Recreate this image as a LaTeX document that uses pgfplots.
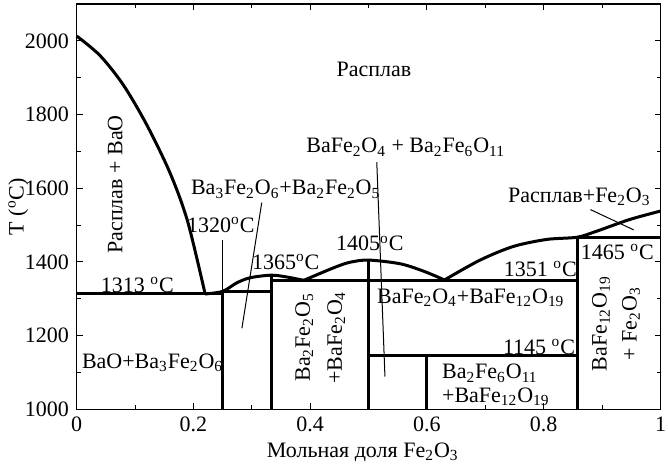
\documentclass[border=0pt]{standalone}
\usepackage{fontspec}
\setmainfont{Liberation Serif}
\usepackage{pgfplots}
\pgfplotsset{compat=1.18}
\newcommand{\sub}[1]{\textsubscript{#1}}
\newcommand{\dg}{\textsuperscript{o}C}

\begin{document}
\fontsize{11}{13}\selectfont
\begin{tikzpicture}
\begin{axis}[
    scale only axis,
    width=291.9pt, height=202.65pt,
    xmin=0, xmax=1, ymin=1000, ymax=2100,
    xtick={0,0.2,0.4,0.6,0.8,1},
    minor xtick={0.1,0.3,0.5,0.7,0.9},
    ytick={1000,1200,1400,1600,1800,2000},
    minor ytick={1100,1300,1500,1700,1900,2100},
    tick align=inside,
    major tick length=3pt, minor tick length=2pt,
    tick style={black, line width=0.5pt},
    axis line style={line width=0.7pt},
    /pgf/number format/assume math mode=true,
    /pgf/number format/1000 sep={},
    xlabel={Мольная доля Fe\sub{2}O\sub{3}},
    ylabel={T (\dg)},
    every axis x label/.style={at={(axis description cs:0.49,-0.105)}, anchor=center},
    every axis y label/.style={at={(axis description cs:-0.1,0.5)}, rotate=90, anchor=center},
    clip=false,
    pb/.style={black, line width=1.5pt, mark=none, line join=round},
    pt/.style={black, line width=0.5pt, mark=none},
]
% liquidus
\addplot[pb, smooth] coordinates {(0,2013) (0.04,1960) (0.08,1880) (0.12,1772) (0.16,1641) (0.19,1510) (0.22,1313)};
\addplot[pb, smooth] coordinates {(0.22,1313) (0.25,1320) (0.274,1343) (0.297,1357) (0.333,1364) (0.36,1359) (0.389,1350)};
\addplot[pb, smooth] coordinates {(0.389,1350) (0.44,1384) (0.468,1399) (0.5,1405) (0.554,1395) (0.594,1375) (0.63,1351)};
\addplot[pb, smooth] coordinates {(0.63,1351) (0.691,1405) (0.748,1442) (0.805,1461) (0.857,1467) (0.89,1483) (0.947,1515) (1,1538)};
% solidus lines and phase boundaries
\addplot[pb] coordinates {(0,1313) (0.25,1313)};
\addplot[pb] coordinates {(0.25,1000) (0.25,1320) (0.3333,1320)};
\addplot[pb] coordinates {(0.3333,1000) (0.3333,1364)};
\addplot[pb] coordinates {(0.3333,1350) (0.5,1350)};
\addplot[pb] coordinates {(0.5,1000) (0.5,1405)};
\addplot[pb] coordinates {(0.5,1350) (0.857,1350)};
\addplot[pb] coordinates {(0.5,1145) (0.857,1145)};
\addplot[pb] coordinates {(0.6,1000) (0.6,1145)};
\addplot[pb] coordinates {(0.857,1000) (0.857,1467)};
\addplot[pb] coordinates {(0.857,1465) (1,1465)};
% pointer lines
\addplot[pt] coordinates {(0.249,1460) (0.249,1320)};
\addplot[pt] coordinates {(0.317,1561) (0.283,1220)};
\addplot[pt] coordinates {(0.514,1671) (0.528,1089)};
\addplot[pt] coordinates {(0.88,1542) (0.954,1487)};
% labels
\node at (axis cs:0.509,1923) {Расплав};
\node[rotate=90] at (axis cs:0.066,1610) {Расплав + BaO};
\node at (axis cs:0.358,1597) {Ba\sub{3}Fe\sub{2}O\sub{6}+Ba\sub{2}Fe\sub{2}O\sub{5}};
\node at (axis cs:0.247,1501) {1320\dg};
\node at (axis cs:0.104,1338) {1313 \dg};
\node at (axis cs:0.358,1399) {1365\dg};
\node at (axis cs:0.502,1450) {1405\dg};
\node at (axis cs:0.5635,1711) {BaFe\sub{2}O\sub{4} + Ba\sub{2}Fe\sub{6}O\sub{11}};
\node at (axis cs:0.861,1577) {Расплав+Fe\sub{2}O\sub{3}};
\node at (axis cs:0.794,1382) {1351 \dg};
\node at (axis cs:0.926,1428) {1465 \dg};
\node at (axis cs:0.792,1168) {1145 \dg};
\node at (axis cs:0.675,1303) {BaFe\sub{2}O\sub{4}+BaFe\sub{12}O\sub{19}};
\node[align=left, font=\fontsize{11}{11.7}\selectfont] at (axis cs:0.718,1066) {Ba\sub{2}Fe\sub{6}O\sub{11}\\+BaFe\sub{12}O\sub{19}};
\node at (axis cs:0.13,1127) {BaO+Ba\sub{3}Fe\sub{2}O\sub{6}};
\node[rotate=90, align=center, font=\fontsize{11}{16}\selectfont] at (axis cs:0.417,1195) {Ba\sub{2}Fe\sub{2}O\sub{5}\\+BaFe\sub{2}O\sub{4}};
\node[rotate=90, align=center, font=\fontsize{11}{15}\selectfont] at (axis cs:0.924,1232) {BaFe\sub{12}O\sub{19}\\+ Fe\sub{2}O\sub{3}};
\coordinate (A) at (rel axis cs:0,0);
\coordinate (B) at (rel axis cs:1,1);
\end{axis}
\pgfresetboundingbox
\path ([shift={(-38.35pt,-27.85pt)}]A) rectangle ([shift={(3.75pt,2pt)}]B);
\end{tikzpicture}
\end{document}
